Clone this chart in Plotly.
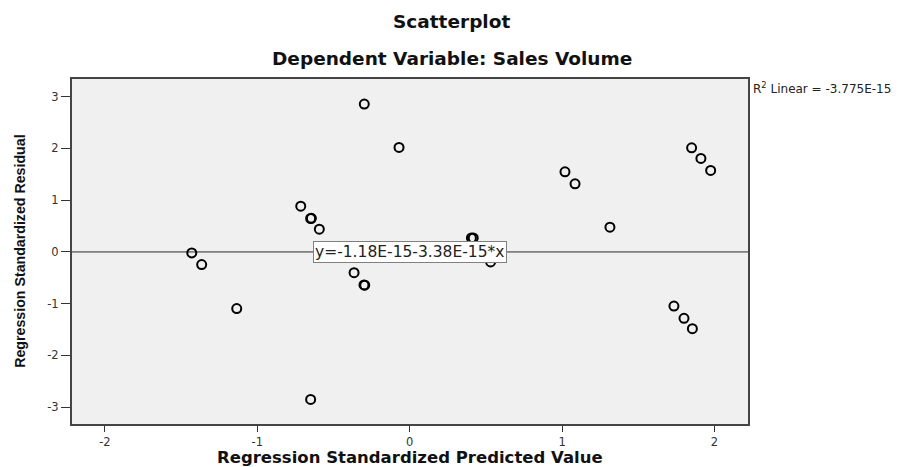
import plotly.graph_objects as go

# Data
pred_values = [-1.430, -1.365, -1.135, -0.715, -0.650, -0.645, -0.593, -0.365, -0.300, -0.295,
               -0.650, -0.298, -0.070, 0.405, 0.417, 0.531, 1.019, 1.085, 1.314,
               1.850, 1.911, 1.975, 1.734, 1.800, 1.855]
resid_values = [-0.020, -0.244, -1.095, 0.884, 0.646, 0.650, 0.439, -0.400, -0.638, -0.642,
                -2.850, 2.858, 2.020, 0.271, 0.271, -0.194, 1.548, 1.316, 0.478,
                2.013, 1.807, 1.575, -1.045, -1.283, -1.483]

fit_intercept = -1.18e-15
fit_slope = -3.38e-15
r2_text = "R<sup>2</sup> Linear = -3.775E-15"
eq_text = "y=-1.18E-15-3.38E-15*x"

x_ticks = [-2, -1, 0, 1, 2]
x_ticktext = ["-2", "-1", "0", "1", "2"]
y_ticks = [-3, -2, -1, 0, 1, 2, 3]
y_ticktext = ["-3", "-2", "-1", "0", "1", "2", "3"]
x_range = [-2.216, 2.22]
y_range = [-3.325, 3.342]

WIDE = "DejaVu Sans, Verdana, sans-serif"
ARIAL = "Liberation Sans, Arial, sans-serif"

fig = go.Figure()

fig.add_trace(go.Scatter(
    x=x_range,
    y=[fit_intercept + fit_slope * v for v in x_range],
    mode="lines",
    line=dict(color="#2a2a2a", width=1),
    hoverinfo="skip",
    showlegend=False,
))

fig.add_trace(go.Scatter(
    x=pred_values, y=resid_values,
    mode="markers",
    marker=dict(symbol="circle-open", size=9, color="black", line=dict(width=2, color="black")),
    showlegend=False,
))

fig.add_annotation(
    x=0, y=0, xref="x", yref="y", xanchor="center", yanchor="middle",
    text=eq_text, showarrow=False,
    font=dict(family=WIDE, size=15.5, color="#222222"),
    bgcolor="white", bordercolor="#808080", borderwidth=1, borderpad=1,
)

fig.add_annotation(
    x=1.004, y=0.975, xref="paper", yref="paper",
    xanchor="left", yanchor="middle",
    text=r2_text, showarrow=False,
    font=dict(family=WIDE, size=12, color="#222222"),
)

fig.add_annotation(
    x=0.562, y=1.166, xref="paper", yref="paper", xanchor="center", yanchor="middle",
    text="<b>Scatterplot</b>", showarrow=False,
    font=dict(family=WIDE, size=18.5, color="#111111"),
)
fig.add_annotation(
    x=0.562, y=1.059, xref="paper", yref="paper", xanchor="center", yanchor="middle",
    text="<b>Dependent Variable: Sales Volume</b>", showarrow=False,
    font=dict(family=WIDE, size=18.5, color="#111111"),
)
fig.add_annotation(
    x=0.5, y=-0.0957, xref="paper", yref="paper", xanchor="center", yanchor="middle",
    text="<b>Regression Standardized Predicted Value</b>", showarrow=False,
    font=dict(family=WIDE, size=16.5, color="#111111"),
)
fig.add_annotation(
    x=-0.078, y=0.5, xref="paper", yref="paper", xanchor="center", yanchor="middle",
    text="<b>Regression Standardized Residual</b>", showarrow=False, textangle=-90,
    font=dict(family=ARIAL, size=14.2, color="#111111"),
)

fig.update_xaxes(
    range=x_range, tickvals=x_ticks, ticktext=x_ticktext, ticks="outside", ticklen=6, tickcolor="#333333",
    showgrid=False, zeroline=False, showline=True, linecolor="#444444", linewidth=2, mirror=True,
    tickfont=dict(family=WIDE, size=11.5, color="#333333"),
)
fig.update_yaxes(
    range=y_range, tickvals=y_ticks, ticktext=y_ticktext, ticks="outside", ticklen=9, tickcolor="#333333",
    showgrid=False, zeroline=False, showline=True, linecolor="#444444", linewidth=2, mirror=True,
    tickfont=dict(family=WIDE, size=11.5, color="#333333"),
)

# page body has an 8px default margin, so the figure is 8px smaller and margins shifted
fig.update_layout(
    width=906, height=459,
    margin=dict(l=64, r=166, t=71, b=43),
    plot_bgcolor="#F0F0F0", paper_bgcolor="white",
    font=dict(family=WIDE),
    hovermode=False,
)

fig.write_html("out.html")
